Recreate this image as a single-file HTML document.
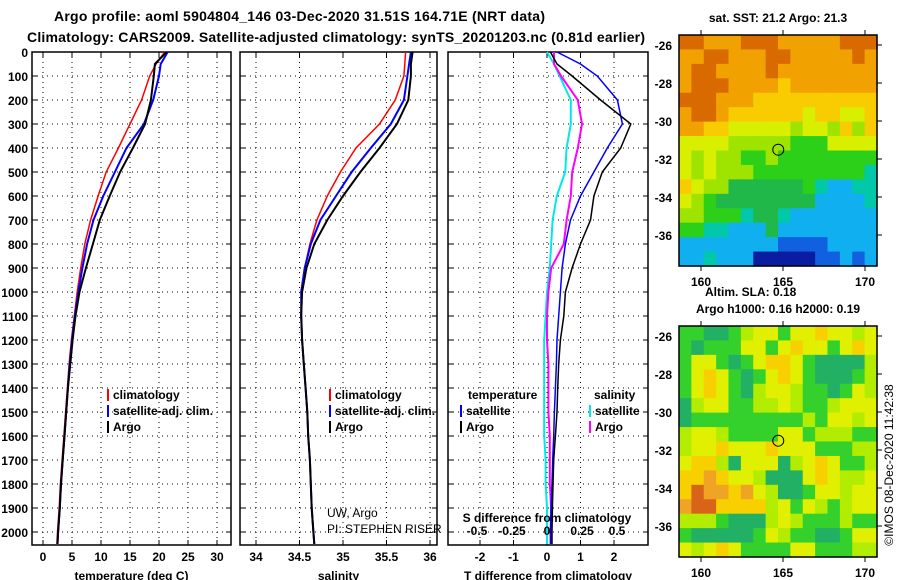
<!DOCTYPE html>
<html><head><meta charset="utf-8"><style>
body{margin:0;background:#fff;}
svg{display:block;font-family:"Liberation Sans",sans-serif;}
.b{font-weight:bold;font-size:12px;}
</style></head><body>
<svg id="c" width="900" height="580" viewBox="0 0 900 580"></svg>
<script>
const depths=[0,50,100,200,300,400,500,600,700,800,900,1000,1100,1200,1300,1400,1500,1600,1700,1800,1900,2000,2050];
const argoT=[21.3,19.3,19.1,18.6,17.6,15.5,13.3,11.5,9.8,8.6,7.4,6.3,5.6,5.1,4.7,4.3,4.0,3.7,3.4,3.1,2.9,2.6,2.5];
const satT=[21.5,20.3,20.0,19.0,17.4,14.4,12.4,10.4,8.7,7.6,6.8,6.1,5.5,5.0,4.6,4.3,4.0,3.7,3.4,3.1,2.9,2.6,2.5];
const climT=[21.0,19.5,18.4,17.0,15.0,13.0,10.9,9.5,8.2,7.2,6.5,5.9,5.4,4.9,4.5,4.2,3.9,3.6,3.3,3.0,2.8,2.5,2.4];
const argoS=[35.8,35.78,35.78,35.75,35.62,35.42,35.2,35.0,34.82,34.67,34.58,34.53,34.52,34.53,34.55,34.57,34.59,34.6,34.62,34.63,34.64,34.66,34.67];
const satS=[35.78,35.76,35.74,35.7,35.55,35.32,35.1,34.92,34.74,34.63,34.56,34.52,34.52,34.53,34.55,34.57,34.59,34.6,34.62,34.63,34.64,34.66,34.67];
const climS=[35.72,35.71,35.7,35.6,35.42,35.15,34.97,34.82,34.7,34.62,34.56,34.52,34.52,34.53,34.55,34.57,34.59,34.6,34.62,34.63,34.64,34.66,34.67];
const dTsat=[0.3,1.0,1.5,2.1,2.25,1.8,1.4,1.0,0.7,0.55,0.45,0.4,0.35,0.3,0.28,0.25,0.22,0.2,0.17,0.15,0.12,0.1,0.1];
const dTargo=[0.1,0.3,0.75,1.6,2.5,2.2,1.65,1.4,1.3,1.0,0.75,0.55,0.5,0.4,0.35,0.32,0.3,0.25,0.2,0.18,0.16,0.15,0.15];
const dSsat=[0.0,0.05,0.09,0.17,0.17,0.14,0.13,0.07,0.04,0.03,0.02,0.0,-0.01,-0.02,-0.02,-0.02,-0.02,-0.02,-0.01,-0.01,0.0,0.0,0.0];
const dSargo=[0.05,0.05,0.1,0.22,0.25,0.22,0.18,0.17,0.14,0.12,0.03,0.01,0.0,0.0,0.01,0.01,0.01,0.02,0.02,0.02,0.03,0.03,0.03];
const depthTicks=[0,100,200,300,400,500,600,700,800,900,1000,1100,1200,1300,1400,1500,1600,1700,1800,1900,2000];
const tTicks=[0,5,10,15,20,25,30];
const sTicks=[34,34.5,35,35.5,36];
const dtTicks=[-2,-1,0,1,2];
const dsTicks=[-0.5,-0.25,0,0.25,0.5];
const latTicks=[-26,-28,-30,-32,-34,-36];
const lonTicks=[160,165,170];
const NS='http://www.w3.org/2000/svg';
const svg=document.getElementById('c');
function el(t,a,p){const e=document.createElementNS(NS,t);for(const k in a)e.setAttribute(k,a[k]);(p||svg).appendChild(e);return e;}
function tx(x,y,s,anchor,cls,p){const e=el('text',{x:x,y:y,'text-anchor':anchor||'start','class':cls||'b'},p);e.textContent=s;return e;}
const yD=d=>52+d*0.24;
const xT=v=>43+v*5.8, xS=v=>256+(v-34)*87, xDT=v=>547+v*33.5, xDS=v=>547+v*140;
const panels=[[32,231,tTicks,xT,'temperature (deg C)','temperature-panel'],[240,437,sTicks,xS,'salinity','salinity-panel'],[448,648,dtTicks,xDT,'T difference from climatology','difference-panel']];
panels.forEach(([l,r,ticks,fx,title,nm])=>{
  const g=el('g',{});
  
  
  depthTicks.forEach(d=>{if(d>0){el('line',{x1:l,x2:r,y1:yD(d),y2:yD(d),stroke:'#000','stroke-dasharray':'1 4'},g);}
    el('line',{x1:l,x2:l+5,y1:yD(d),y2:yD(d),stroke:'#000'},g);el('line',{x1:r-5,x2:r,y1:yD(d),y2:yD(d),stroke:'#000'},g);});
  ticks.forEach(v=>{const x=fx(v);el('line',{x1:x,x2:x,y1:52,y2:545,stroke:'#000','stroke-dasharray':'1 4'},g);
    el('line',{x1:x,x2:x,y1:52,y2:57,stroke:'#000'},g);el('line',{x1:x,x2:x,y1:540,y2:545,stroke:'#000'},g);
    const t=tx(x,561,String(v),'middle','b',g);});
  el('rect',{x:l,y:52,width:r-l,height:493,fill:'none',stroke:'#000','stroke-width':1.5},g);
  const at=tx((l+r)/2,580,title,'middle','b',g);
});
depthTicks.forEach(d=>{const t=tx(28,yD(d)+5,String(d),'end');});
function line(xs,fx,col,w,nm){const pts=xs.map((v,i)=>fx(v).toFixed(1)+','+yD(depths[i]).toFixed(1)).join(' ');
  const p=el('polyline',{points:pts,fill:'none',stroke:col,'stroke-width':w});}
line(climT,xT,'#f00',1.5,'temperature-climatology-line');line(satT,xT,'#00f',2,'temperature-satellite-line');line(argoT,xT,'#000',2,'temperature-argo-line');
line(climS,xS,'#f00',1.5,'salinity-climatology-line');line(satS,xS,'#00f',2,'salinity-satellite-line');line(argoS,xS,'#000',2,'salinity-argo-line');
line(dSsat,xDS,'#00e8e8',2,'s-diff-satellite-line');line(dSargo,xDS,'#f0f',2,'s-diff-argo-line');
line(dTsat,xDT,'#00f',1.5,'t-diff-satellite-line');line(dTargo,xDT,'#000',1.5,'t-diff-argo-line');
dsTicks.forEach(v=>{const t=tx(xDS(v),535,String(v),'middle');});
tx(547,522,'S difference from climatology','middle');
function leg(x,y,col,s,nm){el('rect',{x:x,y:y-10,width:2,height:12,fill:col});const t=tx(x+6,y,s);}
[[107],[329]].forEach(([x])=>{leg(x,399,'#f00','climatology','legend-climatology');leg(x,415,'#00f','satellite-adj. clim.','legend-satellite');leg(x,431,'#000','Argo','legend-argo');});
tx(468,399,'temperature');tx(594,399,'salinity');
leg(460,415,'#00f','satellite','legend-t-satellite');leg(460,431,'#000','Argo','legend-t-argo');
leg(589,415,'#00e8e8','satellite','legend-s-satellite');leg(589,431,'#f0f','Argo','legend-s-argo');
let t1=tx(327,517,'UW, Argo','start');t1.setAttribute('class','');t1.setAttribute('font-size','12');
let t2=tx(327,533,'PI: STEPHEN RISER','start');t2.setAttribute('class','');t2.setAttribute('font-size','12');
let ti=el('text',{x:54,y:21,'font-weight':'bold','font-size':'14',textLength:491});ti.textContent='Argo profile: aoml 5904804_146 03-Dec-2020 31.51S 164.71E (NRT data)';

let ti2=el('text',{x:27,y:42,'font-weight':'bold','font-size':'14',textLength:618});ti2.textContent='Climatology: CARS2009. Satellite-adjusted climatology: synTS_20201203.nc (0.81d earlier)';

// maps
const pal1={O:'#d86a00',o:'#f2a200',y:'#f8cc00',Y:'#d8f000',l:'#9ee400',g:'#2cd018',G:'#20b848',c:'#00c8a8',b:'#10b0f0',B:'#1060e0',N:'#0a1ca0'};
const map1=['OOoooOOOoooooOOO','ooOOoooOOoooooOo','oOOooooOoooooooo','oOOOooooyooooooo','OOOoooyyyyyyyyyy','oOOoyyyyyyYyyYYy','ooyyYYYYYlYYlyly','YYYYlllllgggYYYY','YlYllgglgggggggg','YlYlllgggggggggc','yYllGGGGGGgcbbcc','YlgGGGGGGGGbbbbc','llgggcGGcbbbbbbb','ggccbbbGbbbbbbbb','bbbbbbbbBBBBbbbb','bbcbbbNNNNNBBbBb'];
const pal2={g:'#34d02c',G:'#22b064',Y:'#e0f000',l:'#b2ec00',o:'#f8d000',O:'#f0a424',R:'#d8641a'};
const map2=['ggGGglYYgYYoYYlY','gGgggYYgYoYYgYoY','gYYgGgYooYgGGGGl','gYoYgGgYoYgGGGgl','gYoYgGlYYlggGgYl','GlYYggllYlgglYYY','GggggggggglgYYlY','lYYlggggYYglllgg','lYYoYYYoYYYgggll','YoolGYYYGlYoYggl','ooOoYYlGGGYoYllY','oROOoOYlGGgYYlYY','ORRoooolYgYlglYY','lllgGGGlYlggglgg','gGGGGGgYlggGGgYY','YlYoYggggYYgggll'];
function drawMap(top,grid,pal,nm){
  const g=el('g',{});
  const L=679,R=877,H=231,cw=(R-L)/16,ch=H/16;
  grid.forEach((row,r)=>[...row].forEach((k,c)=>el('rect',{x:L+c*cw,y:top+r*ch,width:cw+0.6,height:ch+0.6,fill:pal[k]},g)));
  el('rect',{x:L,y:top,width:R-L,height:H,fill:'none',stroke:'#000','stroke-width':1.5},g);
  const yL=v=>top+10+(-26-v)*19, xL=v=>701+(v-160)*16.4;
  latTicks.forEach(v=>{el('line',{x1:R,x2:R+5,y1:yL(v),y2:yL(v),stroke:'#000'},g);tx(672,yL(v)+5,String(v),'end','b',g);});
  lonTicks.forEach(v=>{el('line',{x1:xL(v),x2:xL(v),y1:top-5,y2:top,stroke:'#000'},g);el('line',{x1:xL(v),x2:xL(v),y1:top+H,y2:top+H+5,stroke:'#000'},g);tx(xL(v),top+H+20,String(v),'middle','b',g);});
  el('circle',{cx:xL(164.71),cy:yL(-31.51),r:5.5,fill:'none',stroke:'#000'},g);
}
drawMap(35,map1,pal1,'sst-map');drawMap(326,map2,pal2,'sla-map');
tx(778,22,'sat. SST: 21.2 Argo: 21.3','middle');
tx(705,296,'Altim. SLA: 0.18','start');
tx(778,313,'Argo h1000: 0.16 h2000: 0.19','middle');
const cr=el('text',{x:0,y:0,'font-size':'12',transform:'translate(893,465) rotate(-90)','text-anchor':'middle'});cr.textContent='©IMOS 08-Dec-2020 11:42:38';

</script>
</body></html>
